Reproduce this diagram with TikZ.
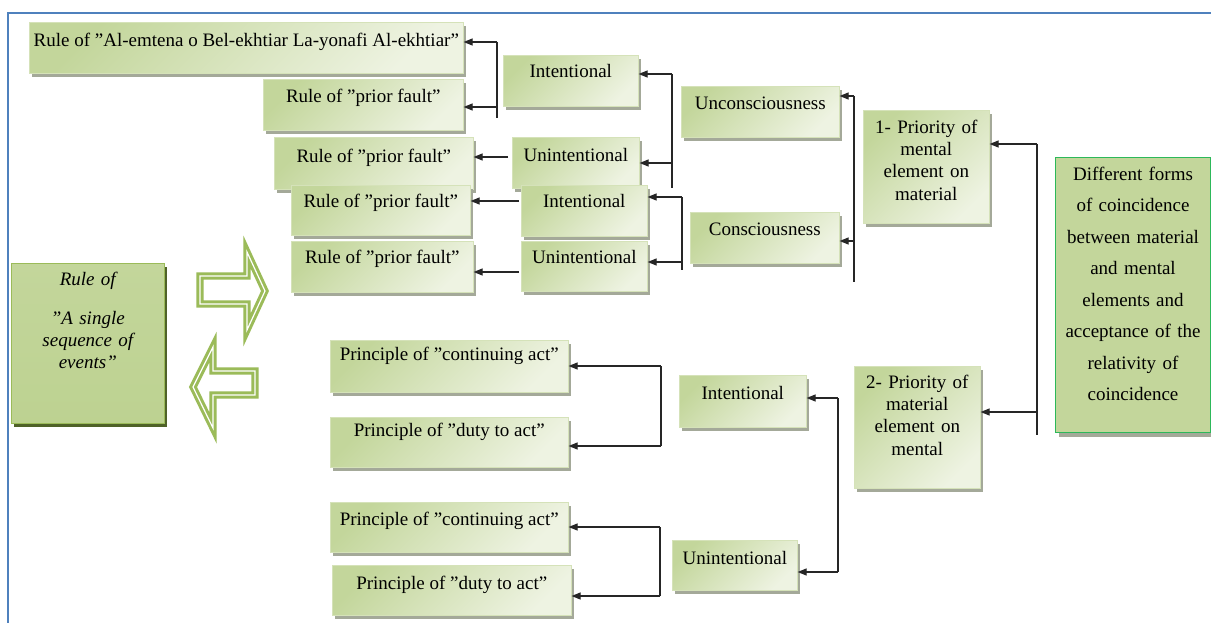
\documentclass[tikz,border=0pt]{standalone}
\usepackage{fontspec}
\setmainfont{Liberation Serif}
\usetikzlibrary{arrows.meta,shadows,calc}
\newcommand{\qd}{\symbol{34}}
\definecolor{gD}{HTML}{C3D69B}
\definecolor{gL}{HTML}{EEF3E2}
\definecolor{gM}{HTML}{9BBB59}
\definecolor{gS}{HTML}{A4A999}
\definecolor{frameblue}{HTML}{4F81BD}
\definecolor{dgreen}{HTML}{2DB85A}
\definecolor{oliveS}{HTML}{4F6228}
\tikzset{
  bx/.style={anchor=north west, inner sep=0pt, draw=gD!70!white, line width=0.6pt,
    left color=gD, right color=gL, shading angle=45,
    drop shadow={shadow xshift=3pt, shadow yshift=-4pt, fill=gS, opacity=1},
    font=\fontsize{19}{22.3}\selectfont},
  conn/.style={line width=1.2pt, draw=black!85},
  arr/.style={conn, -{Triangle[length=9pt,width=7pt]}},
  blockarrow/.style={draw=gM, line width=3pt, double=white, double distance=1.2pt, fill=white, line join=miter},
}
\begin{document}
\begin{tikzpicture}[x=1pt,y=-1pt]
\useasboundingbox (0,0) rectangle (1211,623);
\fill[white] (0,0) rectangle (1211,623);
\draw[frameblue, line width=1.3pt] (8,623) -- (8,13) -- (1211,13);

% top-left group
\node[bx, minimum width=434, text height=24, text depth=27] (A1) at (29,22) {Rule of \qd Al-emtena o Bel-ekhtiar La-yonafi Al-ekhtiar\qd};
\node[bx, minimum width=200, text height=23, text depth=28] (A2) at (263,79) {Rule of \qd prior fault\qd};
\node[bx, minimum width=135, text height=22, text depth=29] (I1) at (503,55) {Intentional};
\node[bx, minimum width=127, text height=24, text depth=27] (U1) at (512,137) {Unintentional};
\node[bx, minimum width=199, text height=25, text depth=27] (R2) at (274,137) {Rule of \qd prior fault\qd};
\node[bx, minimum width=126, text height=22, text depth=29] (I2) at (521,185) {Intentional};
\node[bx, minimum width=179, text height=22, text depth=28] (R3) at (291,185) {Rule of \qd prior fault\qd};
\node[bx, minimum width=126, text height=22, text depth=28] (U2) at (521,241) {Unintentional};
\node[bx, minimum width=182, text height=22, text depth=29] (R4) at (291,241) {Rule of \qd prior fault\qd};
\node[bx, minimum width=158, text height=23, text depth=28] (Unc) at (681,86) {Unconsciousness};
\node[bx, minimum width=149, text height=23, text depth=28] (Con) at (690,212) {Consciousness};
\node[bx, text width=126, align=center, text height=23, text depth=90] (PA) at (863,110) {1- Priority of\\ mental\\ element on\\ material};
\node[bx, text width=126, align=center, text height=22, text depth=100] (PB) at (854,366) {2- Priority of\\ material\\ element on\\ mental};
\node[bx, draw=dgreen, line width=1pt, left color=gD, middle color=gL, right color=gD, shading angle=-45,
      text width=155, align=center, text height=23, text depth=252,
      font=\fontsize{19}{31.5}\selectfont] (Diff) at (1055,157)
  {Different forms\\ of coincidence\\ between material\\ and mental\\ elements and\\ acceptance of the\\ relativity of\\ coincidence};

% left box
\node[bx, draw=gM, top color=gD, middle color=gM, bottom color=gD!85!gM, shading angle=0,
      drop shadow={shadow xshift=3pt, shadow yshift=-4pt, fill=oliveS, opacity=1},
      text width=153, align=center, text height=22, text depth=138,
      font=\fontsize{19}{22}\selectfont\itshape] (L) at (11,263)
  {Rule of\\[17pt] \qd A single\\ sequence of\\ events\qd};

% lower group
\node[bx, minimum width=238, text height=20, text depth=32] (PC1) at (330,340) {Principle of \qd continuing act\qd};
\node[bx, minimum width=238, text height=19, text depth=31] (PD1) at (330,417) {Principle of \qd duty to act\qd};
\node[bx, minimum width=238, text height=23, text depth=27] (PC2) at (330,502) {Principle of \qd continuing act\qd};
\node[bx, minimum width=239, text height=24, text depth=26] (PD2) at (332,565) {Principle of \qd duty to act\qd};
\node[bx, minimum width=127, text height=24, text depth=28] (IB) at (679,375) {Intentional};
\node[bx, minimum width=125, text height=24, text depth=26] (UB) at (672,540) {Unintentional};

% block arrows
\draw[blockarrow] (200,276) -- (247,276) -- (247,252) -- (265,291) -- (247,330) -- (247,304) -- (200,304) -- cycle;
\draw[blockarrow] (255,371) -- (213,371) -- (213,347) -- (193,387) -- (213,428) -- (213,395) -- (255,395) -- cycle;

% connectors
\coordinate (j1a) at (497,42); \coordinate (j1b) at (497,107); \coordinate (j1c) at (497,118);
\draw[conn] (j1a) -- (j1c);
\draw[arr] (j1a) -- (j1a -| A1.east);
\draw[arr] (j1b) -- (j1b -| A2.east);

\coordinate (k1) at (508,157); \draw[arr] (k1) -- (k1 -| R2.east);
\coordinate (k2) at (519,201); \draw[arr] (k2) -- (k2 -| R3.east);
\coordinate (k3) at (519,272); \draw[arr] (k3) -- (k3 -| R4.east);

\coordinate (j2a) at (672,74); \coordinate (j2b) at (672,163); \coordinate (j2c) at (672,188);
\draw[conn] (j2a) -- (j2c);
\draw[arr] (j2a) -- (j2a -| I1.east);
\draw[arr] (j2b) -- (j2b -| U1.east);

\coordinate (j3a) at (682,197); \coordinate (j3b) at (682,262); \coordinate (j3c) at (682,270);
\draw[conn] (j3a) -- (j3c);
\draw[arr] (j3a) -- (j3a -| I2.east);
\draw[arr] (j3b) -- (j3b -| U2.east);

\coordinate (j4a) at (854,96); \coordinate (j4b) at (854,241); \coordinate (j4c) at (854,282);
\draw[conn] (j4a) -- (j4c);
\draw[arr] (j4a) -- (j4a -| Unc.east);
\draw[arr] (j4b) -- (j4b -| Con.east);

\coordinate (j5a) at (1037,144); \coordinate (j5b) at (1037,412); \coordinate (j5c) at (1037,435);
\draw[conn] (j5a) -- (j5c);
\draw[arr] (j5a) -- (j5a -| PA.east);
\draw[arr] (j5b) -- (j5b -| PB.east);

\coordinate (j6a) at (838,398); \coordinate (j6b) at (838,572);
\draw[conn] (j6a) -- (j6b);
\draw[arr] (j6a) -- (j6a -| IB.east);
\draw[arr] (j6b) -- (j6b -| UB.east);

\coordinate (j7a) at (661,366); \coordinate (j7b) at (661,446);
\draw[conn] (j7a) -- (j7b);
\draw[arr] (j7a) -- (j7a -| PC1.east);
\draw[arr] (j7b) -- (j7b -| PD1.east);

\coordinate (j8a) at (660,527); \coordinate (j8b) at (660,596);
\draw[conn] (j8a) -- (j8b);
\draw[arr] (j8a) -- (j8a -| PC2.east);
\draw[arr] (j8b) -- (j8b -| PD2.east);
\end{tikzpicture}
\end{document}
